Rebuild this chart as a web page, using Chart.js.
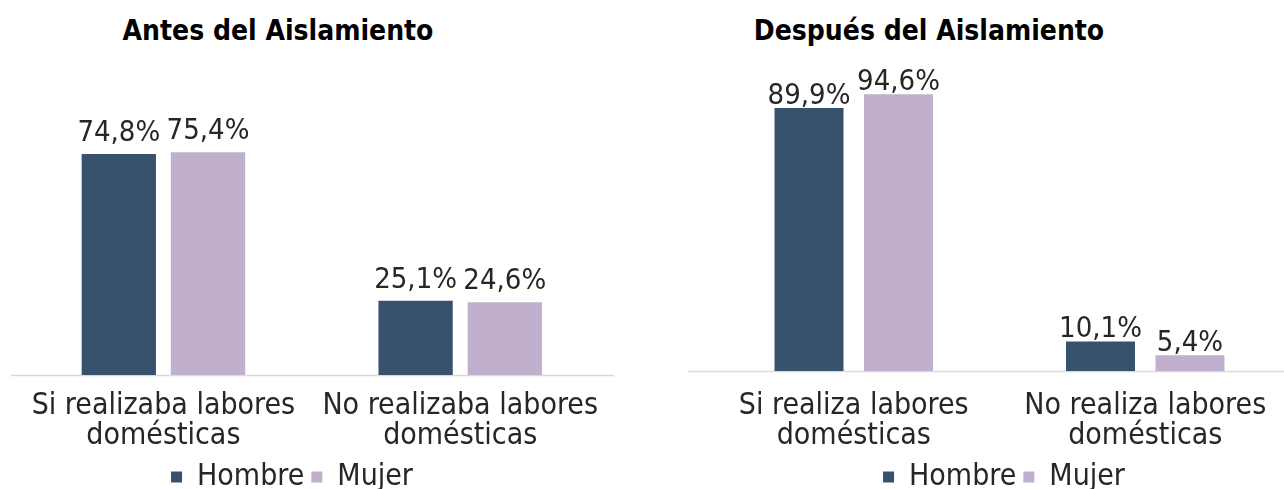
<!DOCTYPE html>
<html>
<head>
<meta charset="utf-8">
<script src="https://cdn.jsdelivr.net/npm/chart.js@4.4.1/dist/chart.umd.min.js"></script>
<style>
  html, body { margin: 0; padding: 0; background: #ffffff; }
  body { width: 1284px; height: 489px; overflow: hidden; position: relative; }
  .wrap { position: absolute; top: 0; }
  .title { position: absolute; top: 17px; width: 420px; text-align: center;
           font: bold 28px/28px 'DejaVu Sans Condensed', 'DejaVu Sans', sans-serif; color: #000; white-space: nowrap; }
</style>
</head>
<body>
<div class="title" id="t1" style="left:68px"></div>
<div class="title" id="t2" style="left:719px"></div>
<div class="wrap" style="left:-30px;width:644px;height:502px"><canvas id="c1"></canvas></div>
<div class="wrap" style="left:688px;width:612px;height:502px"><canvas id="c2"></canvas></div>
<script>
// ---- data ----
const titles = ['Antes del Aislamiento', 'Después del Aislamiento'];
const seriesNames = ['Hombre', 'Mujer'];
const categoriesAntes = [['Si realizaba labores', 'domésticas'], ['No realizaba labores', 'domésticas']];
const categoriesDespues = [['Si realiza labores', 'domésticas'], ['No realiza labores', 'domésticas']];
const hombreAntes = [74.8, 25.1];
const mujerAntes = [75.4, 24.6];
const hombreDespues = [89.9, 10.1];
const mujerDespues = [94.6, 5.4];

// ---- style ----
const FONT = "'DejaVu Sans Condensed', 'DejaVu Sans', sans-serif";
const TEXT = '#262626';
const COLORS = ['#38526E', '#C1B0CD'];

document.getElementById('t1').textContent = titles[0];
document.getElementById('t2').textContent = titles[1];

const valueLabels = {
  id: 'valueLabels',
  afterDatasetsDraw(chart, args, opts) {
    const ctx = chart.ctx;
    ctx.save();
    ctx.font = '29px ' + FONT;
    ctx.fillStyle = TEXT;
    ctx.textAlign = 'center';
    ctx.textBaseline = 'alphabetic';
    chart.data.datasets.forEach((ds, i) => {
      chart.getDatasetMeta(i).data.forEach((el, j) => {
        const v = ds.data[j];
        ctx.fillText(v.toFixed(1).replace('.', ',') + '%', el.x, el.y - opts.offset);
      });
    });
    ctx.restore();
  }
};

const baseLine = {
  id: 'baseLine',
  beforeDatasetsDraw(chart, args, opts) {
    const ctx = chart.ctx, a = chart.chartArea;
    const y = Math.round(chart.scales.y.getPixelForValue(0)) + 0.5;
    ctx.save();
    ctx.strokeStyle = '#D9D9D9';
    ctx.lineWidth = 1.5;
    ctx.beginPath();
    ctx.moveTo(a.left - opts.extL, y);
    ctx.lineTo(a.right + opts.extR, y);
    ctx.stroke();
    ctx.restore();
  }
};

function makeChart(id, cats, h, m, cfg) {
  return new Chart(document.getElementById(id), {
    type: 'bar',
    data: {
      labels: cats,
      datasets: [
        { label: seriesNames[0], data: h, backgroundColor: COLORS[0], borderWidth: 0,
          categoryPercentage: cfg.catPct, barPercentage: cfg.barPct },
        { label: seriesNames[1], data: m, backgroundColor: COLORS[1], borderWidth: 0,
          categoryPercentage: cfg.catPct, barPercentage: cfg.barPct }
      ]
    },
    options: {
      responsive: true,
      maintainAspectRatio: false,
      animation: false,
      layout: { padding: { top: cfg.top, left: cfg.padL, right: 0, bottom: 0 } },
      scales: {
        x: {
          grid: { display: false, drawTicks: false },
          border: { display: false },
          ticks: { color: TEXT, font: { family: FONT, size: 30, lineHeight: 1.0 }, padding: cfg.tickPad,
                   maxRotation: 0, autoSkip: false },
          afterFit: s => { s.height = cfg.xH; }
        },
        y: {
          position: cfg.yPos,
          min: 0, max: 100,
          grid: { display: false, drawTicks: false },
          border: { display: false },
          ticks: { display: false },
          afterFit: s => { s.width = cfg.yW; }
        }
      },
      plugins: {
        legend: {
          position: 'bottom',
          labels: { color: TEXT, font: { family: FONT, size: 30 }, boxWidth: 11, boxHeight: 11, padding: 7 }
        },
        tooltip: { enabled: false },
        valueLabels: { offset: cfg.offset },
        baseLine: { extL: cfg.extL, extR: cfg.extR }
      }
    },
    plugins: [valueLabels, baseLine]
  });
}

makeChart('c1', categoriesAntes, hombreAntes, mujerAntes,
  { catPct: 0.601, barPct: 0.833, top: 79.5, padL: 0, tickPad: 16, xH: 80, yPos: 'left', yW: 45, offset: 13, extL: 4, extR: 9 });
makeChart('c2', categoriesDespues, hombreDespues, mujerDespues,
  { catPct: 0.614, barPct: 0.771, top: 78.5, padL: 20, tickPad: 20, xH: 84, yPos: 'right', yW: 9, offset: 4, extL: 20, extR: 0 });
</script>
</body>
</html>
